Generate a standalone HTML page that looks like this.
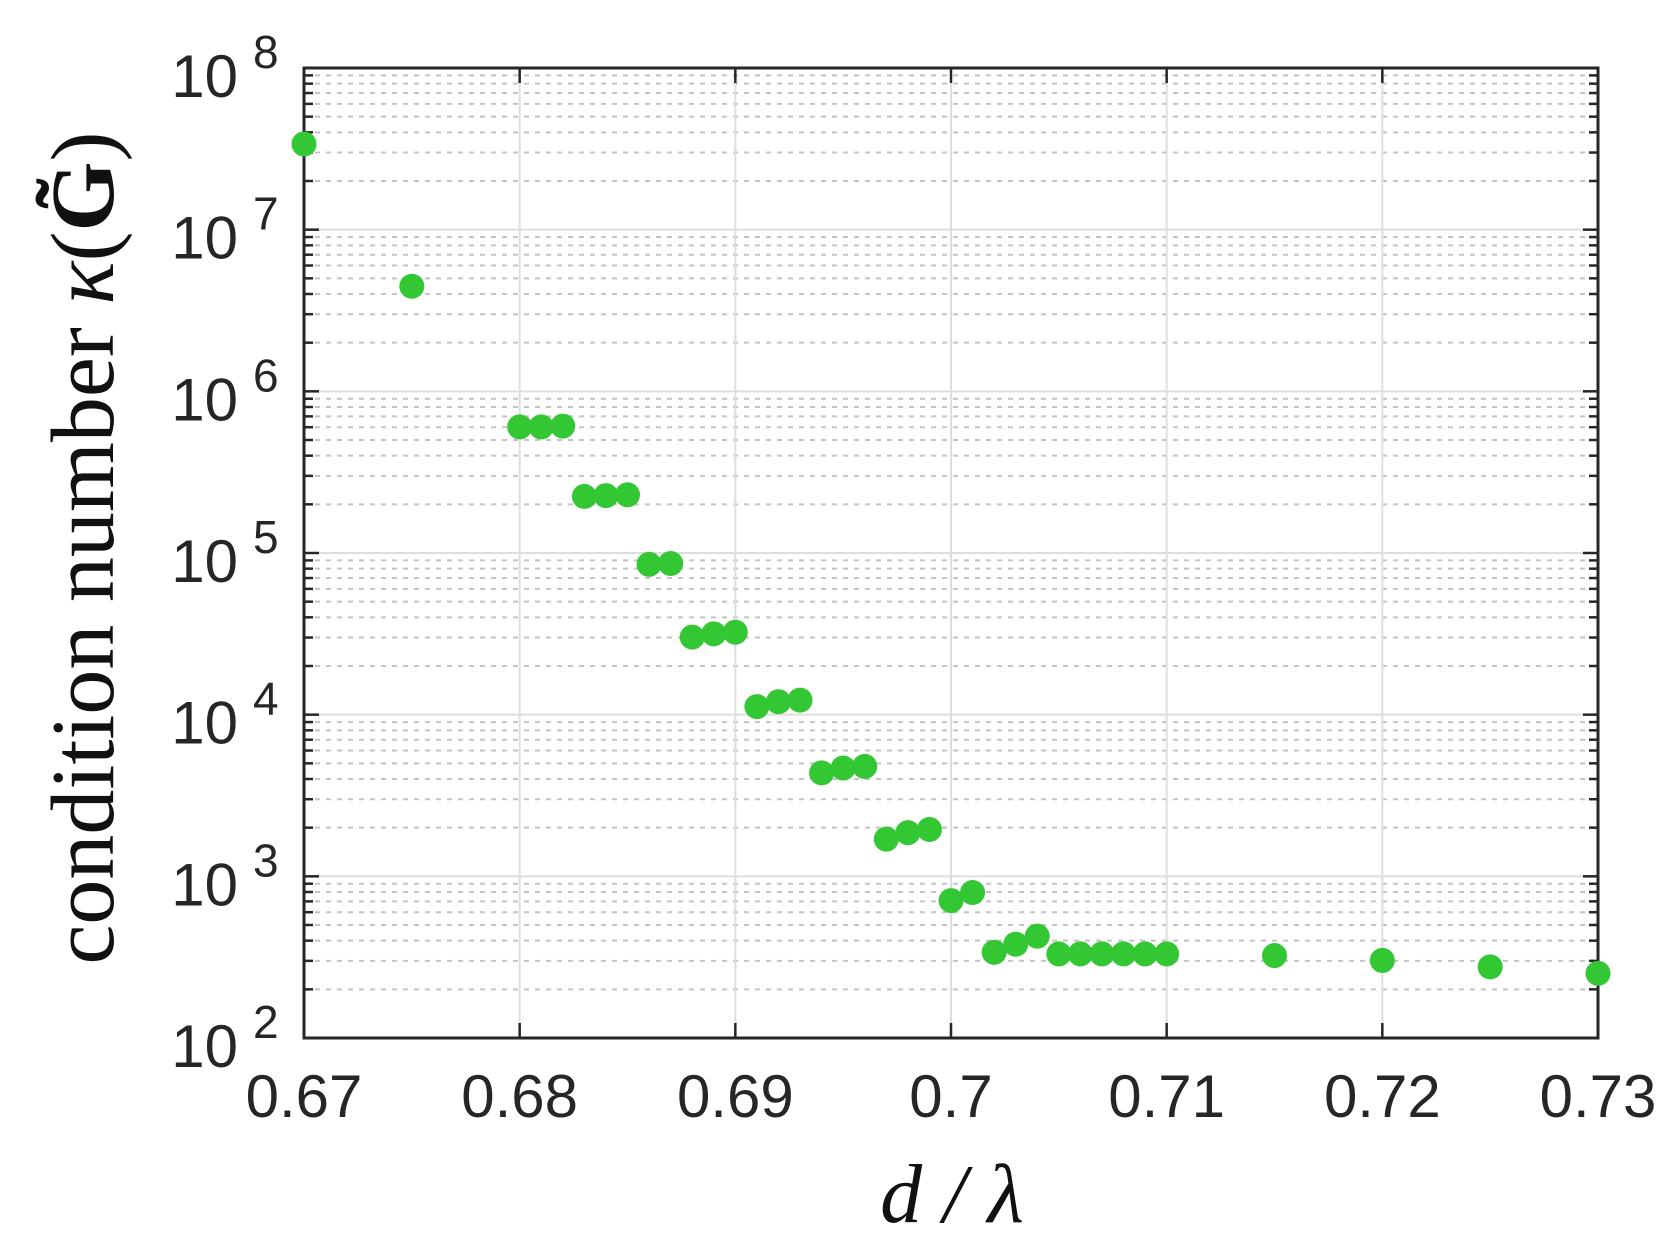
<!DOCTYPE html>
<html><head><meta charset="utf-8"><style>
html,body{margin:0;padding:0;background:#fff;}
svg{display:block;}
</style></head><body>
<svg id="chart" width="1670" height="1248" viewBox="0 0 1670 1248" xmlns="http://www.w3.org/2000/svg">
<g id="grid"></g>
<g id="axes"></g>
<g id="marks"></g>
<g id="labels"></g>
<text transform="translate(113,548) rotate(-90)" text-anchor="middle" font-family="Liberation Serif, serif" font-size="90" fill="#111">condition number <tspan font-style="italic">κ</tspan>(<tspan font-weight="bold">G̃</tspan>)</text>
<text x="952" y="1222" text-anchor="middle" font-family="Liberation Serif, serif" font-style="italic" font-size="84" fill="#111">d / λ</text>
</svg>
<script>
const xValues = [0.670,0.675,0.680,0.681,0.682,0.683,0.684,0.685,0.686,0.687,0.688,0.689,0.690,0.691,0.692,0.693,0.694,0.695,0.696,0.697,0.698,0.699,0.700,0.701,0.702,0.703,0.704,0.705,0.706,0.707,0.708,0.709,0.710,0.715,0.720,0.725,0.730];
const logValues = [7.53,6.65,5.78,5.78,5.785,5.35,5.355,5.36,4.93,4.935,4.48,4.50,4.51,4.05,4.08,4.09,3.64,3.67,3.68,3.23,3.27,3.29,2.85,2.90,2.53,2.58,2.63,2.52,2.52,2.52,2.52,2.52,2.52,2.51,2.48,2.44,2.40];
const xTicks = [0.67,0.68,0.69,0.70,0.71,0.72,0.73];
const xTickLabels = ["0.67","0.68","0.69","0.7","0.71","0.72","0.73"];
const yExponents = [2,3,4,5,6,7,8];

const L=304,R=1598,T=68,B=1038;
const xMin=0.67,xMax=0.73,yMin=2,yMax=8;
const xs=v=>L+(v-xMin)/(xMax-xMin)*(R-L);
const ys=v=>B-(v-yMin)/(yMax-yMin)*(B-T);
const NS="http://www.w3.org/2000/svg";
function mk(tag,parent,attrs){const e=document.createElementNS(NS,tag);for(const k in attrs)e.setAttribute(k,attrs[k]);parent.appendChild(e);return e;}
const grid=document.getElementById('grid'),axes=document.getElementById('axes'),marks=document.getElementById('marks'),labels=document.getElementById('labels');

for(let d=yMin;d<yMax;d++){for(let m=2;m<=9;m++){const y=ys(d+Math.log10(m));
 const g=mk('line',grid,{x1:L,x2:R,y1:y,y2:y,stroke:'#c4c4c4','stroke-width':2,'stroke-dasharray':'5,6'});
 
 const t1=mk('line',axes,{x1:L,x2:L+9,y1:y,y2:y,stroke:'#262626','stroke-width':2.5});
 
 const t2=mk('line',axes,{x1:R-9,x2:R,y1:y,y2:y,stroke:'#262626','stroke-width':2.5});
 }}
yExponents.forEach(e=>{const y=ys(e);
 const g=mk('line',grid,{x1:L,x2:R,y1:y,y2:y,stroke:'#dedede','stroke-width':2});
 
 const t1=mk('line',axes,{x1:L,x2:L+15,y1:y,y2:y,stroke:'#262626','stroke-width':2.5});
 
 const t2=mk('line',axes,{x1:R-15,x2:R,y1:y,y2:y,stroke:'#262626','stroke-width':2.5});
 
 const tx=mk('text',labels,{x:238,y:y+29,'text-anchor':'end','font-family':'Liberation Sans, sans-serif','font-size':60,fill:'#262626'});
 tx.textContent='10';
 
 const ex=mk('text',labels,{x:253,y:y,'font-family':'Liberation Sans, sans-serif','font-size':46,fill:'#262626'});
 ex.textContent=String(e);
 });
xTicks.forEach((v,i)=>{const x=xs(v);
 const g=mk('line',grid,{x1:x,x2:x,y1:T,y2:B,stroke:'#dedede','stroke-width':2});
 
 const t1=mk('line',axes,{x1:x,x2:x,y1:B-15,y2:B,stroke:'#262626','stroke-width':2.5});
 
 const t2=mk('line',axes,{x1:x,x2:x,y1:T,y2:T+15,stroke:'#262626','stroke-width':2.5});
 
 const tx=mk('text',labels,{x:x,y:1117,'text-anchor':'middle','font-family':'Liberation Sans, sans-serif','font-size':60,fill:'#262626'});
 tx.textContent=xTickLabels[i];
 });
const box=mk('rect',axes,{x:L,y:T,width:R-L,height:B-T,fill:'none',stroke:'#262626','stroke-width':3});

xValues.forEach((v,i)=>{
 const c=mk('circle',marks,{cx:xs(v),cy:ys(logValues[i]),r:12.5,fill:'#33c733'});
 
 });
</script>
</body></html>
